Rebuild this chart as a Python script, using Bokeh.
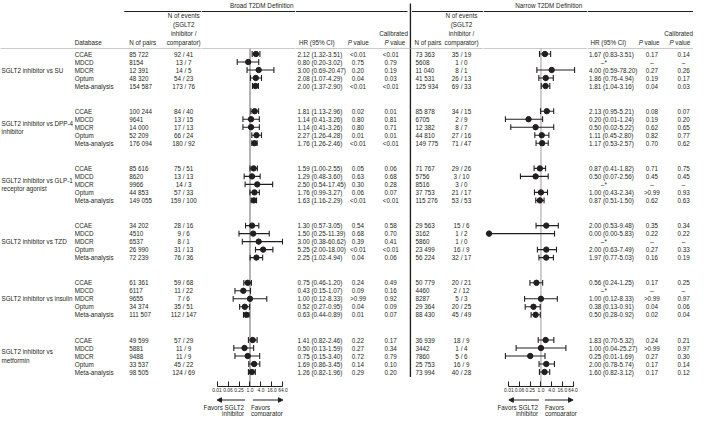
import math
from bokeh.plotting import figure
from bokeh.layouts import row, column
from bokeh.models import Range1d, FixedTicker, Span, Arrow, NormalHead, ColumnDataSource
from bokeh.core.properties import value
from bokeh.embed import file_html
from bokeh.resources import INLINE

# ---------------- data ----------------
GROUPS = [
    ["SGLT2 inhibitor vs SU"],
    ["SGLT2 inhibitor vs DPP-4", "inhibitor"],
    ["SGLT2 inhibitor vs GLP-1", "receptor agonist"],
    ["SGLT2 inhibitor vs TZD"],
    ["SGLT2 inhibitor vs insulin"],
    ["SGLT2 inhibitor vs", "metformin"],
]
DATABASES = ["CCAE", "MDCD", "MDCR", "Optum", "Meta-analysis"]

BROAD_PAIRS = [85722, 8154, 12391, 48320, 154587,
               100244, 9641, 14000, 52209, 176094,
               85616, 8620, 9966, 44853, 149055,
               34202, 4510, 6537, 26990, 72239,
               61361, 6117, 9655, 34374, 111507,
               49599, 5881, 9488, 33537, 98505]
BROAD_EVENTS_SGLT2 = [92, 13, 14, 54, 173,
                      84, 13, 17, 66, 180,
                      75, 13, 14, 57, 159,
                      28, 9, 8, 31, 76,
                      59, 11, 7, 35, 112,
                      57, 11, 11, 45, 124]
BROAD_EVENTS_COMP = [41, 7, 5, 23, 76,
                     40, 15, 13, 24, 92,
                     51, 13, 3, 33, 100,
                     16, 6, 1, 13, 36,
                     68, 22, 6, 51, 147,
                     29, 9, 9, 22, 69]
BROAD_HR = [2.12, 0.80, 3.00, 2.08, 2.00,
            1.81, 1.14, 1.14, 2.27, 1.76,
            1.59, 1.29, 2.50, 1.76, 1.63,
            1.30, 1.50, 3.00, 5.25, 2.25,
            0.75, 0.43, 1.00, 0.52, 0.63,
            1.41, 0.50, 0.75, 1.69, 1.26]
BROAD_LO = [1.32, 0.20, 0.69, 1.07, 1.37,
            1.13, 0.41, 0.41, 1.26, 1.26,
            1.00, 0.48, 0.54, 0.99, 1.16,
            0.57, 0.25, 0.38, 2.00, 1.02,
            0.46, 0.15, 0.12, 0.27, 0.44,
            0.82, 0.13, 0.15, 0.86, 0.82]
BROAD_HI = [3.51, 3.02, 20.47, 4.29, 2.90,
            2.96, 3.26, 3.26, 4.28, 2.46,
            2.55, 3.60, 17.45, 3.27, 2.29,
            3.05, 11.39, 60.62, 18.00, 4.94,
            1.20, 1.07, 8.33, 0.95, 0.89,
            2.46, 1.59, 3.40, 3.45, 1.96]
BROAD_P = ["<0.01", "0.75", "0.20", "0.04", "<0.01",
           "0.02", "0.80", "0.80", "0.01", "<0.01",
           "0.05", "0.63", "0.30", "0.06", "<0.01",
           "0.54", "0.68", "0.39", "<0.01", "0.04",
           "0.24", "0.09", ">0.99", "0.04", "0.01",
           "0.22", "0.27", "0.72", "0.14", "0.29"]
BROAD_CAL_P = ["<0.01", "0.79", "0.19", "0.03", "<0.01",
               "0.01", "0.81", "0.71", "0.01", "<0.01",
               "0.06", "0.68", "0.28", "0.07", "<0.01",
               "0.58", "0.70", "0.41", "<0.01", "0.06",
               "0.49", "0.16", "0.92", "0.09", "0.07",
               "0.17", "0.34", "0.79", "0.10", "0.20"]

NARROW_PAIRS = [73363, 5608, 11040, 41531, 125934,
                85878, 6705, 12382, 44810, 149775,
                71767, 5756, 8516, 37753, 115276,
                29563, 3162, 5860, 23499, 56224,
                50779, 4460, 8287, 29364, 88430,
                36939, 3442, 7860, 25753, 73994]
NARROW_EVENTS_SGLT2 = [35, 1, 8, 26, 69,
                       34, 2, 8, 27, 71,
                       29, 3, 3, 21, 53,
                       15, 1, 1, 16, 32,
                       20, 2, 5, 20, 45,
                       18, 1, 5, 16, 40]
NARROW_EVENTS_COMP = [19, 0, 1, 13, 33,
                      15, 9, 7, 16, 47,
                      26, 10, 0, 17, 53,
                      6, 2, 0, 9, 17,
                      21, 12, 3, 25, 49,
                      9, 4, 6, 9, 28]
NARROW_HR = [1.67, None, 4.00, 1.86, 1.81,
             2.13, 0.20, 0.50, 1.11, 1.17,
             0.87, 0.50, None, 1.00, 0.87,
             2.00, 0.00, None, 2.00, 1.97,
             0.56, None, 1.00, 0.38, 0.50,
             1.83, 1.00, 0.25, 2.00, 1.60]
NARROW_LO = [0.83, None, 0.59, 0.76, 1.04,
             0.95, 0.01, 0.02, 0.45, 0.53,
             0.41, 0.07, None, 0.43, 0.51,
             0.53, 0.00, None, 0.63, 0.77,
             0.24, None, 0.12, 0.13, 0.28,
             0.70, 0.04, 0.01, 0.78, 0.82]
NARROW_HI = [3.51, None, 78.20, 4.94, 3.16,
             5.21, 1.24, 5.22, 2.80, 2.57,
             1.82, 2.56, None, 2.34, 1.50,
             9.48, 5.83, None, 7.49, 5.03,
             1.25, None, 8.33, 0.91, 0.92,
             5.32, 25.27, 1.69, 5.74, 3.12]
NARROW_P = ["0.17", "–", "0.27", "0.19", "0.04",
            "0.08", "0.19", "0.62", "0.82", "0.70",
            "0.71", "0.45", "–", ">0.99", "0.62",
            "0.35", "0.22", "–", "0.27", "0.16",
            "0.17", "–", ">0.99", "0.04", "0.02",
            "0.24", ">0.99", "0.27", "0.17", "0.17"]
NARROW_CAL_P = ["0.14", "–", "0.26", "0.17", "0.03",
                "0.07", "0.20", "0.65", "0.77", "0.62",
                "0.75", "0.45", "–", "0.93", "0.63",
                "0.34", "0.22", "–", "0.33", "0.19",
                "0.25", "–", "0.97", "0.06", "0.04",
                "0.21", "0.97", "0.30", "0.14", "0.12"]

TICK_VALUES = [0.015625, 0.0625, 0.25, 1.0, 4.0, 16.0, 64.0]
TICK_LABELS = ["0.01", "0.06", "0.25", "1.0", "4.0", "16.0", "64.0"]
HR_DISPLAY_FLOOR = 0.0012   # HR/CI of 0.00 drawn at the left edge

# ---------------- layout ----------------
H_TOTAL = 416
SX = 0.9915
FRAME_H = 386
AXIS_H = 10

FONT = "Liberation Sans"
FS = "6.3px"
INK = "#231f20"
REFGREY = "#b4b4b4"
SEPGREY = "#a8a8a8"

Y0, ROW_STEP, GROUP_STEP = 53.5, 8.0, 57.2
ROW_Y = [Y0 + g * GROUP_STEP + r * ROW_STEP
         for g in range(len(GROUPS)) for r in range(len(DATABASES))]

BROAD_SCALE = (252.0, 11.1)
NARROW_SCALE = (545.0, 10.8)


def to_log(px, scale):
    one, unit = scale
    return 4 ** ((px - one) / unit)


def px_w(a, b):
    return round(b * SX) - round(a * SX)


def base_fig(a, b, log_scale=None, with_axis=False):
    w = px_w(a, b)
    if log_scale is None:
        xr, xt = Range1d(a, b), "linear"
    else:
        xr, xt = Range1d(to_log(a, log_scale), to_log(b, log_scale)), "log"
    if with_axis:
        h, mb = FRAME_H + AXIS_H, AXIS_H
    else:
        h, mb = H_TOTAL, H_TOTAL - FRAME_H
    p = figure(width=w, height=h, x_range=xr, y_range=Range1d(FRAME_H, 0),
               x_axis_type=xt, output_backend="svg", toolbar_location=None,
               x_axis_location="below" if with_axis else None, y_axis_location=None,
               min_border=0, min_border_bottom=mb)
    p.grid.visible = False
    p.outline_line_color = None
    p.add_layout(Span(location=48, dimension="width", line_color=SEPGREY, line_width=0.6))
    return p


def txt(p, x, y, s, align="left", style="normal", size=FS):
    if not isinstance(x, list):
        x, y, s = [x], [y], [s]
    p.text(x=x, y=y, text=s, text_align=align, text_baseline="middle",
           text_font=value(FONT), text_font_size=size, text_font_style=style,
           text_color=INK)


def header_p(p, cx, y):
    txt(p, cx - 5.0, y, "P", align="right", style="italic")
    txt(p, cx - 3.4, y, "value", align="left")


def fmt_n(n):
    return f"{n:,}".replace(",", " ") if n >= 10000 else str(n)


def fmt_hr(h, l, u):
    return f"{h:.2f} ({l:.2f}-{u:.2f})"


def events(a, b):
    return [f"{x} / {y}" for x, y in zip(a, b)]


EVENTS_HEADER = ["N of events", "(SGLT2", "inhibitor /", "comparator)"]

# ---- A: labels, databases, broad pairs & events ----
pA = base_fig(0, 203)
for g, lines in enumerate(GROUPS):
    yc = ROW_Y[g * 5 + 2]
    if len(lines) == 1:
        txt(pA, 1, yc, lines[0])
    else:
        txt(pA, [1, 1], [yc - 4.1, yc + 4.1], lines)
txt(pA, [75] * len(ROW_Y), ROW_Y, DATABASES * len(GROUPS))
txt(pA, [130] * len(ROW_Y), ROW_Y, [fmt_n(n) for n in BROAD_PAIRS])
txt(pA, [185] * len(ROW_Y), ROW_Y, events(BROAD_EVENTS_SGLT2, BROAD_EVENTS_COMP), align="center")
txt(pA, 75, 42, "Database")
txt(pA, 130, 42, "N of pairs")
txt(pA, [185] * 4, [15, 24, 33, 42], EVENTS_HEADER, align="center")
pA.segment(x0=[125], x1=[203], y0=[11], y1=[11], line_color=INK, line_width=1)


# ---- forest builder ----
def forest(a, b, scale, hr, lo, hi, title_px, title, fav_px, ref_w):
    p = base_fig(a, b, log_scale=scale, with_axis=True)
    ys, xh, xl, xu = [], [], [], []
    for y, h, l, u in zip(ROW_Y, hr, lo, hi):
        if h is None:
            continue
        ys.append(y)
        xh.append(max(h, HR_DISPLAY_FLOOR))
        xl.append(max(l, HR_DISPLAY_FLOOR))
        xu.append(u)
    src = ColumnDataSource(dict(y=ys, hr=xh, lo=xl, hi=xu))
    p.segment(x0=[1.0], x1=[1.0], y0=[48], y1=[FRAME_H], line_color=REFGREY, line_width=ref_w)
    p.segment(x0="lo", x1="hi", y0="y", y1="y", source=src, line_color=INK, line_width=1.1)
    for col in ("lo", "hi"):
        p.scatter(x=col, y="y", source=src, marker="dash", angle=math.pi / 2, size=5.8,
                  line_color=INK, line_width=1.1)
    p.scatter(x="hr", y="y", source=src, marker="circle", size=5.4,
              fill_color=INK, line_color=INK)
    txt(p, to_log(title_px, scale), 5, title, align="center")
    p.add_layout(Span(location=11, dimension="width", line_color=INK, line_width=1))
    ax = p.xaxis[0]
    ax.ticker = FixedTicker(ticks=TICK_VALUES, minor_ticks=[])
    ax.major_label_overrides = {v: s for v, s in zip(TICK_VALUES, TICK_LABELS)}
    ax.bounds = (TICK_VALUES[0], TICK_VALUES[-1])
    ax.major_tick_in = 5
    ax.major_tick_out = 0
    ax.minor_tick_line_color = None
    ax.major_label_standoff = 1
    ax.major_label_text_font = FONT
    ax.major_label_text_font_size = "4.9px"
    ax.major_label_text_color = INK
    ax.axis_line_color = INK
    ax.major_tick_line_color = INK
    ax.axis_line_width = 1

    fh = H_TOTAL - p.height
    f = figure(width=p.width, height=fh, x_range=p.x_range,
               y_range=Range1d(H_TOTAL, p.height), x_axis_type="log",
               output_backend="svg", toolbar_location=None,
               x_axis_location=None, y_axis_location=None, min_border=0)
    f.grid.visible = False
    f.outline_line_color = None
    l_in, r_in, l_txt, r_txt = [to_log(v, scale) for v in fav_px]
    for xs, xe in ((l_in, TICK_VALUES[0]), (r_in, TICK_VALUES[-1])):
        f.add_layout(Arrow(x_start=xs, x_end=xe, y_start=399.5, y_end=399.5,
                           line_color=INK, line_width=1,
                           end=NormalHead(size=4.5, fill_color=INK, line_color=INK)))
    txt(f, [l_txt, l_txt], [406.5, 413.3], ["Favors SGLT2", "inhibitor"], align="right")
    txt(f, [r_txt, r_txt], [406.5, 413.3], ["Favors", "comparator"], align="left")
    return column(p, f, spacing=0)


colB = forest(203, 298, BROAD_SCALE, BROAD_HR, BROAD_LO, BROAD_HI, 264,
              "Broad T2DM Definition", (247, 255, 246, 253), 2.0)


# ---- stats builder ----
def stats(a, b, hr, lo, hi, pv, cp, hr_x, p_x, cp_x, p_head_x, cp_head_x, line_end):
    p = base_fig(a, b)
    ok = [i for i, h in enumerate(hr) if h is not None]
    miss = [i for i, h in enumerate(hr) if h is None]
    txt(p, [hr_x] * len(ok), [ROW_Y[i] for i in ok], [fmt_hr(hr[i], lo[i], hi[i]) for i in ok])
    if miss:
        txt(p, [hr_x + 12] * len(miss), [ROW_Y[i] for i in miss], ["–*"] * len(miss))
    txt(p, [p_x] * len(ROW_Y), ROW_Y, pv, align="center")
    txt(p, [cp_x] * len(ROW_Y), ROW_Y, cp, align="center")
    txt(p, hr_x + 1.5, 42, "HR (95% CI)")
    header_p(p, p_head_x, 42)
    txt(p, cp_head_x, 33, "Calibrated", align="center")
    header_p(p, cp_head_x, 42)
    p.segment(x0=[a], x1=[line_end], y0=[11], y1=[11], line_color=INK, line_width=1)
    return p


pC = stats(298, 413, BROAD_HR, BROAD_LO, BROAD_HI, BROAD_P, BROAD_CAL_P,
           300, 361, 394, 360, 397, 411)

# ---- D: narrow pairs & events ----
pD = base_fig(413, 487)
pD.segment(x0=[413.8], x1=[413.8], y0=[3], y1=[ROW_Y[-1] + 5], line_color=INK, line_width=1.6)
pD.segment(x0=[415.5], x1=[487], y0=[11], y1=[11], line_color=INK, line_width=1)
txt(pD, [419] * len(ROW_Y), ROW_Y, [fmt_n(n) for n in NARROW_PAIRS])
txt(pD, [465] * len(ROW_Y), ROW_Y, events(NARROW_EVENTS_SGLT2, NARROW_EVENTS_COMP), align="center")
txt(pD, 418, 42, "N of pairs")
txt(pD, [465] * 4, [15, 24, 33, 42], EVENTS_HEADER, align="center")

colE = forest(487, 592, NARROW_SCALE, NARROW_HR, NARROW_LO, NARROW_HI, 553,
              "Narrow T2DM Definition", (543, 549, 542, 549), 1.3)

pF = stats(592, 699, NARROW_HR, NARROW_LO, NARROW_HI, NARROW_P, NARROW_CAL_P,
           593.5, 657, 689, 653, 684, 699)

layout = row(pA, colB, pC, pD, colE, pF, spacing=0)

open("out.html", "w").write(file_html(layout, INLINE, title="Forest plot"))
